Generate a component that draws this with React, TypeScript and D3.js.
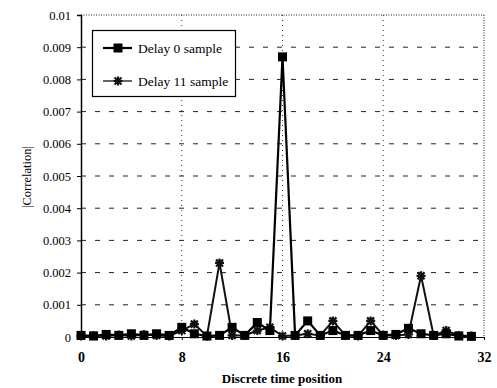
import React, { useEffect, useRef } from 'react';
import * as d3 from 'd3';

const positions = d3.range(0, 32);
const delay0 = [
  0.00005, 0.00003, 0.00008, 0.00005, 0.0001, 0.00005, 0.0001, 0.00005,
  0.0003, 0.0001, 0.00003, 0.00005, 0.0003, 0.00005, 0.00045, 0.0002,
  0.0087, 0.00005, 0.0005, 0.00005, 0.0002, 0.00005, 0.00005, 0.0002,
  0.00005, 0.00008, 0.00027, 0.0001, 0.00005, 0.0001, 0.00003, 0.00002,
];
const delay11 = [
  0.00003, 0.00005, 0.00003, 0.00006, 0.00003, 0.00008, 0.00005, 0.00003,
  0.0002, 0.0004, 0.00003, 0.0023, 0.00005, 0.00005, 0.0002, 0.0003,
  0.00003, 0.00005, 0.0001, 0.00005, 0.0005, 0.00005, 0.00003, 0.0005,
  0.00005, 0.00005, 0.00008, 0.0019, 0.00005, 0.0002, 0.00005, 0.00003,
];
const xTicks = [0, 8, 16, 24, 32];
const yTicks = d3.range(0, 11).map(i => i / 1000);
const seriesNames = ['Delay 0 sample', 'Delay 11 sample'];

const width = 497;
const height = 388;

function App() {
  const svgRef = useRef(null);

  useEffect(() => {
    const svg = d3.select(svgRef.current);
    svg.selectAll('*').remove();

    const x = d3.scaleLinear().domain([0, 32]).range([81, 484]);
    const y = d3.scaleLinear().domain([0, 0.01]).range([337, 15]);
    const font = "'Liberation Serif', 'Times New Roman', serif";

    // horizontal dashed grid
    svg.append('g')
      .selectAll('line')
      .data(yTicks.slice(1, -1))
      .join('line')
      .attr('x1', x(0)).attr('x2', x(32))
      .attr('y1', d => y(d)).attr('y2', d => y(d))
      .attr('stroke', '#222').attr('stroke-width', 1)
      .attr('stroke-dasharray', '5,9');

    // vertical dotted grid
    svg.append('g')
      .selectAll('line')
      .data([8, 16, 24])
      .join('line')
      .attr('x1', d => x(d)).attr('x2', d => x(d))
      .attr('y1', y(0.01)).attr('y2', y(0))
      .attr('stroke', '#333').attr('stroke-width', 1)
      .attr('stroke-dasharray', '1,4');

    // top and right borders (dotted)
    svg.append('line')
      .attr('x1', x(0)).attr('x2', x(32))
      .attr('y1', y(0.01)).attr('y2', y(0.01))
      .attr('stroke', '#222').attr('stroke-dasharray', '1,1.5');
    svg.append('line')
      .attr('x1', x(32)).attr('x2', x(32))
      .attr('y1', y(0.01)).attr('y2', y(0))
      .attr('stroke', '#222').attr('stroke-dasharray', '1,1.5');

    // y axis
    const yAxis = d3.axisLeft(y)
      .tickValues(yTicks)
      .tickSize(4)
      .tickPadding(6)
      .tickFormat(d => (d === 0 ? '0' : d3.format('.3~f')(d)));
    const gy = svg.append('g')
      .attr('transform', `translate(${x(0)},0)`)
      .call(yAxis)
      .attr('font-family', null);
    gy.select('.domain').attr('stroke', '#000').attr('stroke-width', 1.5);
    gy.selectAll('text')
      .style('font-family', font).style('font-size', '12.5px').attr('fill', '#000');

    // x axis
    const xAxis = d3.axisBottom(x)
      .tickValues(xTicks)
      .tickSize(3)
      .tickPadding(12)
      .tickFormat(d3.format('d'));
    const gx = svg.append('g')
      .attr('transform', `translate(0,${y(0)})`)
      .call(xAxis)
      .attr('font-family', null);
    gx.select('.domain').attr('stroke', '#000').attr('stroke-width', 1);
    gx.selectAll('text')
      .style('font-family', font).style('font-size', '14px')
      .style('font-weight', 'bold').attr('fill', '#000');

    // axis titles
    svg.append('text')
      .attr('x', 282).attr('y', 383)
      .attr('text-anchor', 'middle')
      .style('font-family', font).style('font-size', '13px').style('font-weight', 'bold')
      .text('Discrete time position');
    svg.append('text')
      .attr('transform', 'translate(31,177) rotate(-90)')
      .attr('text-anchor', 'middle')
      .style('font-family', font).style('font-size', '12.5px')
      .text('|Correlation|');

    const line = d3.line<number>()
      .x((d, i) => x(positions[i]))
      .y(d => y(d));

    const star = (g, cx, cy, r) => {
      g.append('path')
        .attr('d', `M${cx - r},${cy - r}L${cx + r},${cy + r}M${cx - r},${cy + r}L${cx + r},${cy - r}M${cx},${cy - r - 1}L${cx},${cy + r + 1}M${cx - r - 1},${cy}L${cx + r + 1},${cy}`)
        .attr('stroke', '#111').attr('stroke-width', 2.2).attr('fill', 'none');
    };

    // delay 11 series
    svg.append('path')
      .datum(delay11)
      .attr('d', line)
      .attr('fill', 'none').attr('stroke', '#111').attr('stroke-width', 2);
    const g11 = svg.append('g');
    delay11.forEach((v, i) => star(g11, x(positions[i]), y(v), 3.5));

    // delay 0 series
    svg.append('path')
      .datum(delay0)
      .attr('d', line)
      .attr('fill', 'none').attr('stroke', '#000').attr('stroke-width', 2.2);
    svg.append('g')
      .selectAll('rect')
      .data(delay0)
      .join('rect')
      .attr('x', (d, i) => x(positions[i]) - 4.5)
      .attr('y', d => y(d) - 4.5)
      .attr('width', 9).attr('height', 9)
      .attr('fill', '#000');

    // legend
    const lg = svg.append('g');
    lg.append('rect')
      .attr('x', 92.5).attr('y', 30.5).attr('width', 143).attr('height', 66)
      .attr('fill', '#fff').attr('stroke', '#000').attr('stroke-width', 1.2);
    seriesNames.forEach((name, i) => {
      const ly = 48 + i * 33;
      lg.append('line')
        .attr('x1', 103).attr('x2', 132).attr('y1', ly).attr('y2', ly)
        .attr('stroke', i === 0 ? '#000' : '#333')
        .attr('stroke-width', i === 0 ? 2.2 : 1.5);
      if (i === 0) {
        lg.append('rect').attr('x', 113.5).attr('y', ly - 4.5)
          .attr('width', 9).attr('height', 9).attr('fill', '#000');
      } else {
        star(lg, 118, ly, 3.5);
      }
      lg.append('text')
        .attr('x', 138).attr('y', ly + 4.5)
        .style('font-family', font).style('font-size', '13.5px')
        .text(name);
    });
  }, []);

  return (
    <svg
      ref={svgRef}
      width={width}
      height={height}
      style={{ position: 'absolute', left: 0, top: 0, background: '#fff' }}
    />
  );
}

export default App;
